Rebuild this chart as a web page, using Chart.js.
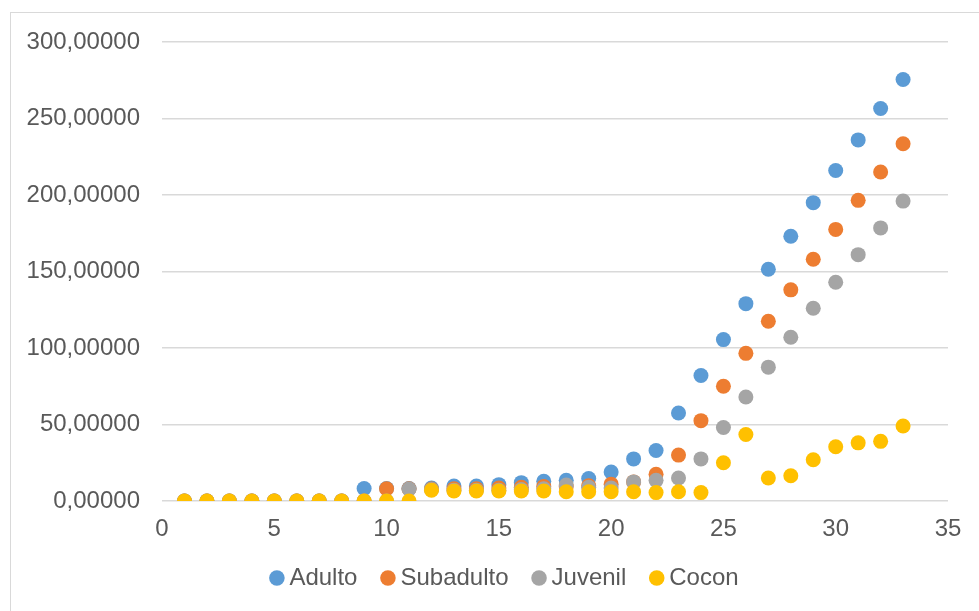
<!DOCTYPE html>
<html>
<head>
<meta charset="utf-8">
<script src="https://cdn.jsdelivr.net/npm/chart.js@4.4.1/dist/chart.umd.min.js"></script>
<style>
    html, body { margin: 0; padding: 0; background: #ffffff; }
    .frame {
        position: absolute;
        left: 10px;
        top: 12px;
        width: 985px;
        height: 610px;
        border: 1px solid #d9d9d9;
        box-sizing: border-box;
    }
    .frame canvas { display: block; }
</style>
</head>
<body>
<div class="frame">
    <canvas id="growthChart" width="983" height="608"></canvas>
</div>
<script>
// Data
const days = [1, 2, 3, 4, 5, 6, 7, 8, 9, 10, 11, 12, 13, 14, 15, 16, 17,
              18, 19, 20, 21, 22, 23, 24, 25, 26, 27, 28, 29, 30, 31, 32, 33];

const adulto = [0, 0, 0, 0, 0, 0, 0, 0, 8.2, 8.2, 8.2, 8.5, 9.8, 9.8, 10.7, 12, 12.9,
                13.6, 14.7, 19, 27.5, 33, 57.5, 82, 105.5, 129, 151.5, 173, 195, 216, 236, 256.5, 275.5];
const subadulto = [0, 0, 0, 0, 0, 0, 0, 0, 0, 8, 8, 7.8, 8, 8, 8.5, 9, 9.5,
                   9.5, 10, 11, 12.5, 17.5, 30, 52.5, 75, 96.5, 117.5, 138, 158, 177.5, 196.5, 215, 233.5];
const juvenil = [0, 0, 0, 0, 0, 0, 0, 0, 0, 0, 7.8, 7.5, 7, 7, 7, 7.5, 8,
                 10.5, 9, 8.5, 12.5, 13.5, 15, 27.5, 48, 68, 87.5, 107, 126, 143, 161, 178.5, 196];
const cocon = [0, 0, 0, 0, 0, 0, 0, 0, 0, 0, 0, 7, 6.5, 6.5, 6.5, 6.5, 6.5,
               6, 6, 6, 6, 5.5, 6, 5.5, 25, 43.5, 15, 16.5, 27, 35.5, 38, 39, 49];

const seriesNames = ['Adulto', 'Subadulto', 'Juvenil', 'Cocon'];
const seriesValues = [adulto, subadulto, juvenil, cocon];
const seriesColors = ['#5b9bd5', '#ed7d31', '#a5a5a5', '#ffc000'];

// Helper: pair each value with its day
function toPoints(values) {
    return days.map((d, i) => ({ x: d, y: values[i] }));
}

// Excel style number: 300,00000
function formatValue(value) {
    return value.toFixed(5).replace('.', ',');
}

const datasets = seriesNames.map((name, i) => ({
    label: name,
    data: toPoints(seriesValues[i]),
    backgroundColor: seriesColors[i],
    borderColor: seriesColors[i],
    borderWidth: 0,
    pointRadius: 7.5,
    pointHoverRadius: 7.5,
    pointStyle: 'circle',
    order: seriesNames.length - i   // later series drawn on top
}));

const font = { family: '"Liberation Sans", Arial, sans-serif', size: 24 };

new Chart(document.getElementById('growthChart').getContext('2d'), {
    type: 'scatter',
    data: { datasets: datasets },
    options: {
        responsive: false,
        animation: false,
        layout: {
            autoPadding: false,
            padding: { left: 10, right: 0, top: 29, bottom: 21 }
        },
        scales: {
            x: {
                type: 'linear',
                min: 0,
                max: 35,
                ticks: { stepSize: 5, color: '#595959', font: font, padding: 14 },
                grid: { display: false, drawTicks: false },
                border: { display: false },
                afterFit: scale => { scale.height = 35; }
            },
            y: {
                min: 0,
                max: 300,
                ticks: {
                    stepSize: 50,
                    color: '#595959',
                    font: font,
                    padding: 22,
                    callback: value => formatValue(value)
                },
                grid: { color: '#d9d9d9', lineWidth: 1.5, drawTicks: false },
                border: { display: false },
                afterFit: scale => {
                    scale.width = 141;
                    // tick padding would otherwise push the plot down
                    scale.paddingTop = 0;
                    scale.paddingBottom = 0;
                }
            },
            // empty right margin, keeps the legend centred on the whole frame
            yRight: {
                position: 'right',
                ticks: { display: false },
                grid: { display: false, drawTicks: false },
                border: { display: false },
                afterFit: scale => { scale.width = 46; }
            }
        },
        plugins: {
            legend: {
                position: 'bottom',
                labels: {
                    usePointStyle: true,
                    boxWidth: 1,
                    boxHeight: 11,
                    padding: 30,
                    color: '#595959',
                    font: font,
                    // keep the legend in dataset order, not drawing order
                    sort: (a, b) => a.datasetIndex - b.datasetIndex
                }
            },
            tooltip: { enabled: false }
        }
    }
});
</script>
</body>
</html>
